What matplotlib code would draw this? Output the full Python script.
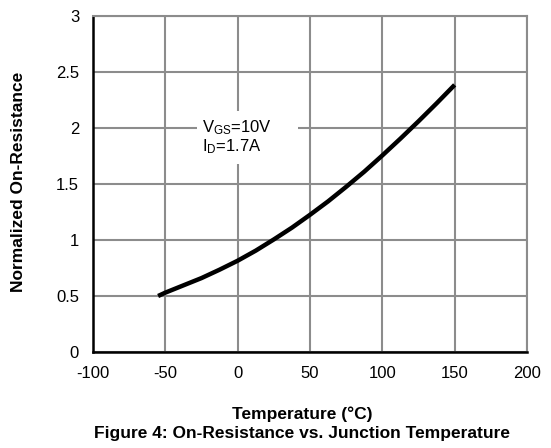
import matplotlib.pyplot as plt
from matplotlib.patches import Rectangle

plt.rcParams['font.family'] = ['Liberation Sans', 'DejaVu Sans']
plt.rcParams['axes.unicode_minus'] = False

temp = [-55, -50, -37.5, -25, -12.5, 0, 12.5, 25, 37.5, 50,
        62.5, 75, 87.5, 100, 112.5, 125, 137.5, 150]
r_norm = [0.50, 0.53, 0.595, 0.66, 0.735, 0.815, 0.905, 1.005, 1.11, 1.225,
          1.345, 1.475, 1.61, 1.755, 1.905, 2.06, 2.22, 2.385]

x_ticks = [-100, -50, 0, 50, 100, 150, 200]
y_ticks = [0, 0.5, 1, 1.5, 2, 2.5, 3]
y_labels = ['0', '0.5', '1', '1.5', '2', '2.5', '3']

fig = plt.figure(figsize=(5.51, 4.48), dpi=100)
ax = fig.add_axes([93 / 551, 1 - 352 / 448, 434 / 551, 336 / 448])

ax.plot(temp, r_norm, color='black', lw=3.2, solid_capstyle='butt', zorder=4)

ax.set_xlim(-100, 200)
ax.set_ylim(0, 3)
ax.set_xticks(x_ticks)
ax.set_yticks(y_ticks)
ax.set_yticklabels(y_labels)
ax.tick_params(length=0, labelsize=12)
ax.tick_params(axis='x', pad=10)
ax.tick_params(axis='y', pad=10)
ax.grid(True, color='#8c8c8c', lw=1.5)
ax.set_axisbelow(True)

for s in ['top', 'right']:
    ax.spines[s].set_color('#8c8c8c')
    ax.spines[s].set_linewidth(1.5)
for s in ['left', 'bottom']:
    ax.spines[s].set_color('black')
    ax.spines[s].set_linewidth(1.8)

# white box behind the test condition note
ax.add_patch(Rectangle((-28, 1.68), 69.5, 0.47, facecolor='white',
                       edgecolor='none', zorder=2))
ax.text(-25, 1.92, '$\\mathregular{V_{GS}}$=10V\n$\\mathregular{I_{D}}$=1.7A', fontsize=12,
        ha='left', va='center', linespacing=1.0, zorder=3)

fig.text(19 / 551, 1 - 182 / 448, 'Normalized On-Resistance', rotation=90,
         ha='center', va='center', fontsize=12.5, fontweight='bold')
fig.text(302 / 551, 1 - 414 / 448, 'Temperature (°C)', ha='center', va='center',
         fontsize=12.5, fontweight='bold')
fig.text(302 / 551, 1 - 433 / 448, 'Figure 4: On-Resistance vs. Junction Temperature',
         ha='center', va='center', fontsize=12.5, fontweight='bold')

fig.savefig('out.png', dpi=100)
